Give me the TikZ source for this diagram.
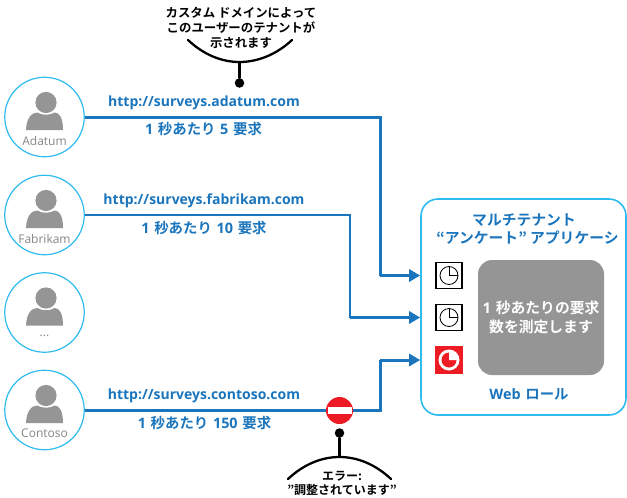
\documentclass[tikz,border=0pt]{standalone}
\usepackage{fontspec}
\usetikzlibrary{arrows.meta,calc}
\newfontfamily\jpf{Noto Sans CJK JP}[BoldFont={Noto Sans CJK JP Bold}]
\newfontfamily\latf{Open Sans}
\newcommand{\jb}[1]{{\jpf\bfseries #1}}
\newcommand{\lb}[1]{{\latf\bfseries #1}}
\definecolor{lblue}{HTML}{1B75BC}
\definecolor{lcyan}{HTML}{2EBBEF}
\definecolor{lgray}{HTML}{959595}
\definecolor{ltext}{HTML}{868686}
\definecolor{lred}{HTML}{ED1C24}
\tikzset{
  x=1pt,y=-1pt,
  user/.style={circle,draw=lcyan,line width=1.2pt,fill=white,minimum size=79.5pt,inner sep=0pt},
  conn/.style={draw=lblue,line width=3pt},
  arr/.style={conn,-{Triangle[length=11pt,width=12pt]}},
  blab/.style={text=lblue,inner sep=0pt,font=\fontsize{14}{16}\selectfont,anchor=center},
  qlab/.style={blab,font=\fontsize{14.4}{16}\selectfont},
  ulab/.style={text=ltext,inner sep=0pt,font=\latf\fontsize{12}{12}\selectfont},
  note/.style={text=black,inner sep=0pt,align=center,font=\fontsize{12.4}{15}\selectfont},
  clockbox/.style={draw=black,line width=1.8pt,fill=white,minimum size=26pt,inner sep=0pt},
  alertbox/.style={fill=lred,minimum size=28pt,inner sep=0pt},
  calline/.style={draw=black,line width=2.3pt,line cap=round},
}
\newcommand{\person}[2]{%
  \fill[lgray] (#1+1.5,#2-14.5) circle (10.6);
  \fill[lgray] (#1-18.5,#2+13) .. controls (#1-18,#2+1) and (#1-13,#2-4.5) .. (#1-7,#2-4.5)
     .. controls (#1-3,#2-1.5) and (#1+6,#2-1.5) .. (#1+10,#2-4.5)
     .. controls (#1+15,#2-4.5) and (#1+18.5,#2+1) .. (#1+18.5,#2+13) -- cycle;
}
\newcommand{\clockface}[1]{%
  \draw[black,line width=0.8pt] (#1.center) circle (9);
  \draw[black,line width=0.8pt] ($(#1.center)+(0,-9)$) -- (#1.center) -- ($(#1.center)+(9,0)$);
}
\begin{document}
\begin{tikzpicture}
\useasboundingbox (0,0) rectangle (627,498);

% users
\node[user] (adatum) at (44.5,117) {};
\node[user] (fabrikam) at (44.5,215) {};
\node[user] (other) at (44.5,312.5) {};
\node[user] (contoso) at (44.5,410) {};
\person{44.5}{117}\person{44.5}{215}\person{44.5}{312.5}\person{44.5}{410}
\node[ulab] (adatumlab) at (44.5,140.5) {Adatum};
\node[ulab] (fabrikamlab) at (44.5,238.5) {Fabrikam};
\node[ulab] (otherlab) at (44.5,336) {...};
\node[ulab] (contosolab) at (44.5,433.5) {Contoso};

% application
\node[draw=lcyan,line width=1.6pt,rounded corners=17pt,minimum width=205pt,minimum height=216pt,inner sep=0pt] (app) at (523.5,307) {};
\node[fill=lgray,rounded corners=14pt,minimum width=126pt,minimum height=115pt,inner sep=0pt,text=white,align=center,font=\fontsize{14.8}{19}\selectfont] (meter) at (541,317.5) {\lb{1} \jb{秒あたりの要求}\\\jb{数を測定します}};
\node[clockbox] (c1) at (449,275.5) {};
\node[clockbox] (c2) at (449,317.5) {};
\node[alertbox] (c3) at (449,360) {};
\clockface{c1}
\clockface{c2}
\fill[white] (c3.center) circle (10.5);
\fill[lred] (c3.center) circle (7.5);
\fill[white] (c3.center) -- ($(c3.center)+(0,-8)$) arc[start angle=-90,end angle=0,radius=8] -- cycle;
\node[blab,font=\fontsize{14.8}{16}\selectfont] (t1) at (524,220) {\jb{マルチテナント}};
\node[blab,font=\fontsize{14.8}{16}\selectfont] (t2) at (527.5,237.5) {\jb{“アンケート” アプリケーシ}};
\node[qlab] (t3) at (529,394) {\lb{Web} \jb{ロール}};

% connectors
\coordinate (r1) at (380,275.5);
\coordinate (r2) at (350,317.5);
\coordinate (r3) at (380,360);
\draw[conn] (adatum.east) -- (adatum.east -| r1) -- (r1);
\draw[arr] (r1) -- (r1 -| app.west);
\draw[conn,line width=2.8pt] (fabrikam.east) -- (fabrikam.east -| r2) -- (r2);
\draw[arr,line width=2.8pt] (r2) -- (r2 -| app.west);
\draw[conn] (contoso.east) -- (contoso.east -| r3) -- (r3);
\draw[arr] (r3) -- (r3 -| app.west);

% labels
\node[blab] (u1) at (204,103) {\lb{http://surveys.adatum.com}};
\node[qlab] (q1) at (203.5,129.5) {\lb{1} \jb{秒あたり} \lb{5} \jb{要求}};
\node[blab] (u2) at (204,201) {\lb{http://surveys.fabrikam.com}};
\node[qlab] (q2) at (204,228.5) {\lb{1} \jb{秒あたり} \lb{10} \jb{要求}};
\node[blab] (u3) at (204,396) {\lb{http://surveys.contoso.com}};
\node[qlab] (q3) at (204.5,423.5) {\lb{1} \jb{秒あたり} \lb{150} \jb{要求}};

% no-entry sign
\node[circle,fill=lred,minimum size=27pt,inner sep=0pt] (stop) at (339.5,410.5) {};
\fill[white] ($(stop.center)+(-12,-3.5)$) rectangle ($(stop.center)+(12,3.5)$);

% callouts
\node[circle,fill=black,minimum size=9.5pt,inner sep=0pt] (dot1) at (239.5,83) {};
\coordinate (arc1) at (239.5,62);
\draw[calline] (dot1) -- (arc1);
\coordinate (a1l) at (188,40);
\coordinate (a1r) at (292,40);
\draw[calline] (a1l) .. controls (204,55) and (222,62) .. (arc1) .. controls (257,62) and (276,55) .. (a1r);
\node[note] (n1) at (241,27.5) {\jb{カスタム ドメインによって}\\\jb{このユーザーのテナントが}\\\jb{示されます}};

\node[circle,fill=black,minimum size=9.5pt,inner sep=0pt] (dot2) at (339.5,433) {};
\coordinate (arc2) at (339.5,457);
\draw[calline] (dot2) -- (arc2);
\coordinate (a2l) at (288,479);
\coordinate (a2r) at (391,479);
\draw[calline] (a2l) .. controls (304,464) and (322,457) .. (arc2) .. controls (357,457) and (375,464) .. (a2r);
\node[note,font=\fontsize{12}{13.5}\selectfont] (n2) at (342,483.5) {\jb{エラー:}\\\jb{”調整されています”}};
\end{tikzpicture}
\end{document}
